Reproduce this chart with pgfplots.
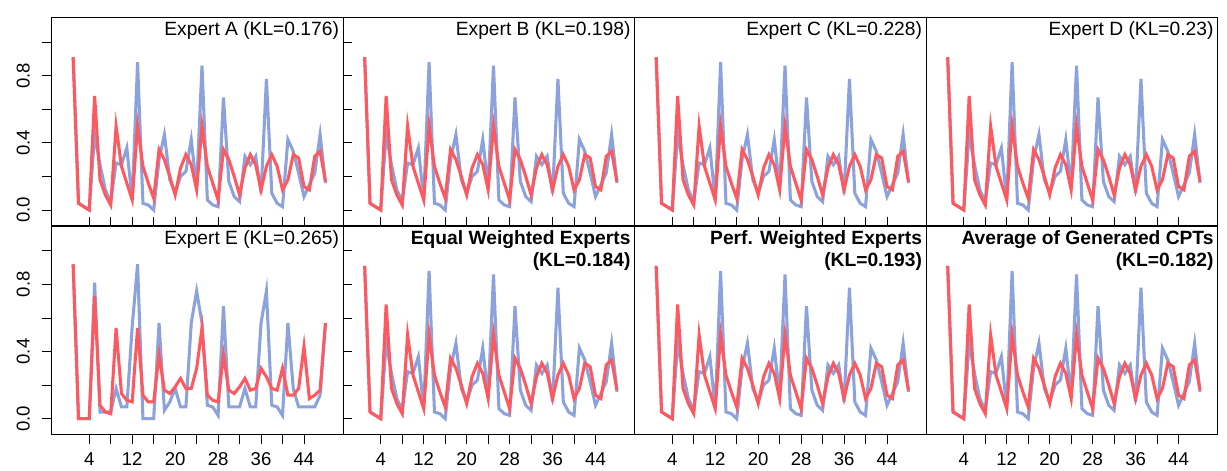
\documentclass[border=0pt]{standalone}
\usepackage{pgfplots}
\pgfplotsset{compat=1.18}
\usepackage{pgfplotstable}
\usepgfplotslibrary{groupplots}
\usepackage{fontspec}
\setmainfont{Liberation Sans}
\definecolor{cblue}{RGB}{140,162,220}
\definecolor{cred}{RGB}{255,88,94}
\pgfplotstableread{
x b r
1 0.91 0.91
2 0.04 0.04
3 0.02 0.02
4 0.00 0.00
5 0.45 0.68
6 0.27 0.18
7 0.12 0.09
8 0.05 0.03
9 0.28 0.50
10 0.27 0.26
11 0.37 0.16
12 0.06 0.06
13 0.88 0.50
14 0.04 0.26
15 0.03 0.16
16 0.00 0.07
17 0.30 0.36
18 0.45 0.30
19 0.18 0.20
20 0.10 0.09
21 0.20 0.25
22 0.23 0.33
23 0.42 0.27
24 0.13 0.12
25 0.86 0.50
26 0.06 0.26
27 0.03 0.16
28 0.02 0.06
29 0.67 0.36
30 0.17 0.30
31 0.08 0.20
32 0.05 0.09
33 0.32 0.25
34 0.27 0.33
35 0.32 0.27
36 0.10 0.12
37 0.78 0.26
38 0.10 0.33
39 0.04 0.26
40 0.02 0.12
41 0.42 0.18
42 0.35 0.33
43 0.22 0.31
44 0.08 0.14
45 0.15 0.12
46 0.22 0.32
47 0.45 0.35
48 0.16 0.17
}\tA
\pgfplotstableread{
x b r
1 0.92 0.92
2 0.00 0.00
3 0.00 0.00
4 0.00 0.00
5 0.81 0.73
6 0.04 0.08
7 0.04 0.04
8 0.04 0.03
9 0.18 0.54
10 0.07 0.15
11 0.07 0.11
12 0.55 0.10
13 0.92 0.54
14 0.00 0.14
15 0.00 0.10
16 0.00 0.10
17 0.57 0.38
18 0.05 0.17
19 0.10 0.15
20 0.18 0.19
21 0.07 0.24
22 0.07 0.18
23 0.57 0.18
24 0.76 0.30
25 0.57 0.54
26 0.08 0.14
27 0.07 0.11
28 0.02 0.10
29 0.67 0.38
30 0.07 0.17
31 0.07 0.15
32 0.07 0.19
33 0.18 0.24
34 0.07 0.17
35 0.07 0.18
36 0.57 0.30
37 0.76 0.25
38 0.08 0.18
39 0.07 0.17
40 0.02 0.30
41 0.57 0.14
42 0.18 0.14
43 0.07 0.18
44 0.07 0.43
45 0.07 0.12
46 0.07 0.14
47 0.14 0.17
48 0.57 0.57
}\tE
\newcommand{\pan}[2]{%
\addplot[cblue, line width=2.3pt] table[x=x,y=b] {#1};
\addplot[cred, line width=2.3pt] table[x=x,y=r] {#1};
\node[anchor=north east, align=right, inner sep=3pt, font=\fontsize{14.5}{17}\selectfont] at (rel axis cs:1,1) {#2};}
\begin{document}
\begin{tikzpicture}
\begin{groupplot}[group style={group size=4 by 2, horizontal sep=0pt, vertical sep=0pt,
  xticklabels at=edge bottom, yticklabels at=edge left},
  width=220pt, height=157.5pt, scale only axis,
  xmin=-3, xmax=51.3, ymin=-0.095, ymax=1.148,
  xtick={4,8,...,44}, xticklabels={4,,12,,20,,28,,36,,44},
  ytick={0,0.2,...,1.0}, yticklabels={0.0,,0.4,,0.8,},
  yticklabel style={rotate=90, anchor=south, yshift=6pt},
  xticklabel style={yshift=-3pt},
  tick align=outside, tick style={black, line width=0.7pt},
  major tick length=7pt, axis line style={line width=1pt},
  tick label style={font=\fontsize{14}{16}\selectfont},
  /pgf/number format/assume math mode=true, clip=false]
\nextgroupplot[xtick style={draw=none}] \pan{\tA}{Expert A (KL=0.176)}
\path ([xshift=-39pt]rel axis cs:0,1) ++(0,1pt);
\nextgroupplot[xtick style={draw=none},ytick style={draw=none}] \pan{\tA}{Expert B (KL=0.198)}
\nextgroupplot[xtick style={draw=none},ytick style={draw=none}] \pan{\tA}{Expert C (KL=0.228)}
\nextgroupplot[xtick style={draw=none},ytick style={draw=none}] \pan{\tA}{Expert D (KL=0.23)}
\nextgroupplot \pan{\tE}{Expert E (KL=0.265)}
\nextgroupplot[ytick style={draw=none}] \pan{\tA}{\textbf{Equal Weighted Experts}\\\textbf{(KL=0.184)}}
\nextgroupplot[ytick style={draw=none}] \pan{\tA}{\textbf{Perf. Weighted Experts}\\\textbf{(KL=0.193)}}
\nextgroupplot[ytick style={draw=none}] \pan{\tA}{\textbf{Average of Generated CPTs}\\\textbf{(KL=0.182)}}
\end{groupplot}
\end{tikzpicture}
\end{document}
